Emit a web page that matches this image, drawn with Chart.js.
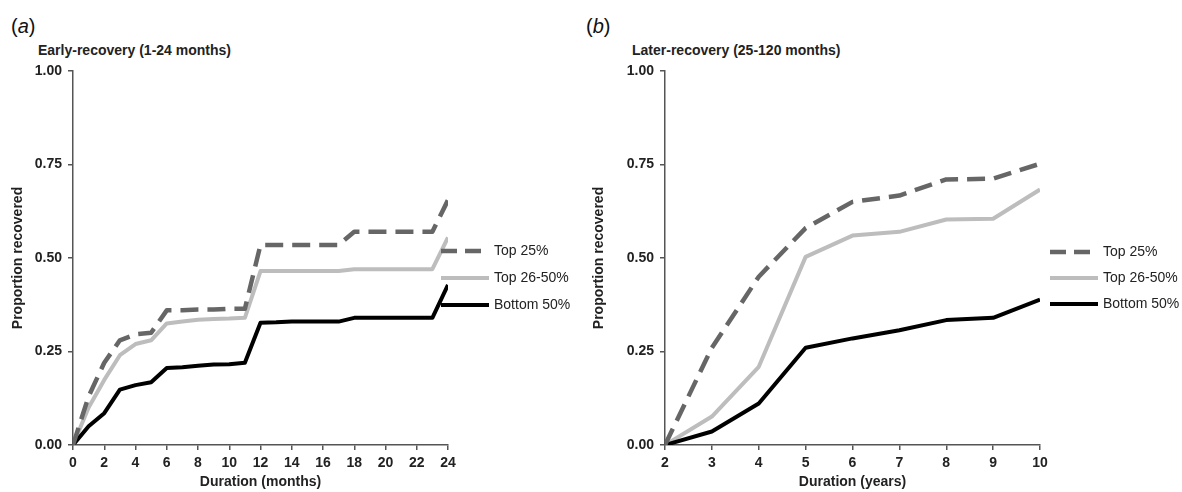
<!DOCTYPE html>
<html>
<head>
<meta charset="utf-8">
<script src="https://cdn.jsdelivr.net/npm/chart.js@4.4.1/dist/chart.umd.min.js"></script>
<style>
  body { margin: 0; background: #fff; }
  #wrap { position: relative; width: 1182px; height: 492px; font-family: "Liberation Sans", Arial, sans-serif; color: #111; }
  canvas { position: absolute; top: 0; }
  .panel { position: absolute; top: 16px; font-size: 20px; line-height: 20px; }
  .sub { position: absolute; top: 43px; font-size: 14px; line-height: 14px; font-weight: bold; color: #222; }
</style>
</head>
<body>
<div id="wrap">
  <div class="panel" style="left:11px">(<i>a</i>)</div>
  <div class="sub" style="left:38px">Early-recovery (1-24 months)</div>
  <div class="panel" style="left:586px">(<i>b</i>)</div>
  <div class="sub" style="left:632px">Later-recovery (25-120 months)</div>
  <canvas id="chartA" width="590" height="492" style="left:0"></canvas>
  <canvas id="chartB" width="592" height="492" style="left:590px"></canvas>
</div>
<script>
// panel (a): months 0-24
const monthsA = [0, 1, 2, 3, 4, 5, 6, 7, 8, 9, 10, 11, 12, 13, 14, 15, 16, 17, 18, 19, 20, 21, 22, 23, 24];
const top25A = [0, 0.13, 0.22, 0.28, 0.296, 0.30, 0.36, 0.36, 0.362, 0.362, 0.364, 0.364, 0.535, 0.535, 0.535, 0.535, 0.535, 0.535, 0.57, 0.57, 0.57, 0.57, 0.57, 0.57, 0.655];
const top2650A = [0, 0.10, 0.174, 0.24, 0.27, 0.28, 0.325, 0.33, 0.335, 0.337, 0.338, 0.34, 0.465, 0.465, 0.465, 0.465, 0.465, 0.465, 0.47, 0.47, 0.47, 0.47, 0.47, 0.47, 0.555];
const bottom50A = [0, 0.05, 0.085, 0.148, 0.16, 0.168, 0.206, 0.208, 0.212, 0.215, 0.216, 0.22, 0.327, 0.328, 0.33, 0.33, 0.33, 0.33, 0.34, 0.34, 0.34, 0.34, 0.34, 0.34, 0.428];
const xTicksA = [0, 2, 4, 6, 8, 10, 12, 14, 16, 18, 20, 22, 24];

// panel (b): years 2-10
const yearsB = [2, 3, 4, 5, 6, 7, 8, 9, 10];
const top25B = [0, 0.26, 0.45, 0.58, 0.65, 0.667, 0.71, 0.712, 0.752];
const top2650B = [0, 0.076, 0.209, 0.503, 0.56, 0.57, 0.603, 0.605, 0.683];
const bottom50B = [0, 0.036, 0.111, 0.26, 0.285, 0.307, 0.334, 0.34, 0.389];
const xTicksB = [2, 3, 4, 5, 6, 7, 8, 9, 10];

const yTicks = [0, 0.25, 0.5, 0.75, 1];
const seriesNames = ['Top 25%', 'Top 26-50%', 'Bottom 50%'];

const FONT = '"Liberation Sans", Arial, sans-serif';
const styles = [
  { color: '#666666', dash: [18, 9], width: 4.5 },
  { color: '#bdbdbd', dash: [], width: 4 },
  { color: '#000000', dash: [], width: 4 }
];

// legend drawn beside the plot, using each dataset's own line style
const sideLegend = {
  id: 'sideLegend',
  afterDraw(chart, args, opts) {
    const ctx = chart.ctx;
    ctx.save();
    chart.data.datasets.forEach((ds, i) => {
      const y = opts.y + i * opts.rowGap;
      const dash = ds.borderDash && ds.borderDash.length ? opts.dash : [];
      ctx.beginPath();
      ctx.strokeStyle = ds.borderColor;
      ctx.lineWidth = ds.borderWidth;
      ctx.setLineDash(dash);
      ctx.moveTo(opts.x, y);
      ctx.lineTo(opts.x + opts.lineLen, y);
      ctx.stroke();
      ctx.setLineDash([]);
      ctx.fillStyle = '#222';
      ctx.font = '14px ' + FONT;
      ctx.textBaseline = 'middle';
      ctx.fillText(ds.label, opts.x + opts.lineLen + opts.textGap, y);
    });
    ctx.restore();
  }
};

function makeChart(id, xs, series, xTicks, xTitle, cfg) {
  const datasets = series.map((vals, i) => ({
    label: seriesNames[i],
    data: xs.map((x, j) => ({ x: x, y: vals[j] })),
    borderColor: styles[i].color,
    borderDash: styles[i].dash,
    borderWidth: styles[i].width,
    borderJoinStyle: 'round',
    pointRadius: 0,
    tension: 0,
    fill: false
  }));
  // dashed on top, then black, light grey underneath
  datasets[0].order = 0;
  datasets[1].order = 2;
  datasets[2].order = 1;

  return new Chart(document.getElementById(id), {
    type: 'line',
    data: { datasets: datasets },
    plugins: [sideLegend],
    options: {
      responsive: false,
      animation: false,
      devicePixelRatio: 1,
      layout: { padding: { top: 71, right: cfg.padRight, bottom: 0, left: 0 } },
      plugins: {
        legend: { display: false },
        tooltip: { enabled: false },
        sideLegend: cfg.legend
      },
      scales: {
        x: {
          type: 'linear',
          min: xTicks[0],
          max: xTicks[xTicks.length - 1],
          afterBuildTicks: s => { s.ticks = xTicks.map(v => ({ value: v })); },
          afterFit: s => { s.height = 47; },
          border: { color: '#555', width: 1.5 },
          grid: { drawOnChartArea: false, drawTicks: true, tickLength: 5, color: '#555', lineWidth: 1.5 },
          ticks: { font: { family: FONT, size: 14, weight: 'bold' }, color: '#222', padding: 5, maxRotation: 0, autoSkip: false },
          title: { display: true, text: xTitle, font: { family: FONT, size: 14, weight: 'bold' }, color: '#222', padding: { top: 0, bottom: 1 } }
        },
        y: {
          min: 0,
          max: 1,
          afterBuildTicks: s => { s.ticks = yTicks.map(v => ({ value: v })); },
          afterFit: s => { s.width = cfg.yWidth; },
          border: { color: '#555', width: 1.5 },
          grid: { drawOnChartArea: false, drawTicks: true, tickLength: 5, color: '#555', lineWidth: 1.5 },
          ticks: { font: { family: FONT, size: 14, weight: 'bold' }, color: '#222', padding: 6, callback: v => v.toFixed(2) },
          title: { display: true, text: 'Proportion recovered', font: { family: FONT, size: 14, weight: 'bold' }, color: '#222', padding: { top: cfg.yTitlePad, bottom: 0 } }
        }
      }
    }
  });
}

makeChart('chartA', monthsA, [top25A, top2650A, bottom50A], xTicksA, 'Duration (months)', {
  padRight: 142, yWidth: 73, yTitlePad: 10,
  legend: { x: 441, y: 251, rowGap: 27, lineLen: 48, textGap: 5, dash: [16, 8] }
});

makeChart('chartB', yearsB, [top25B, top2650B, bottom50B], xTicksB, 'Duration (years)', {
  padRight: 142, yWidth: 75, yTitlePad: 1,
  legend: { x: 460, y: 252, rowGap: 26, lineLen: 48, textGap: 5, dash: [16, 8] }
});
</script>
</body>
</html>
